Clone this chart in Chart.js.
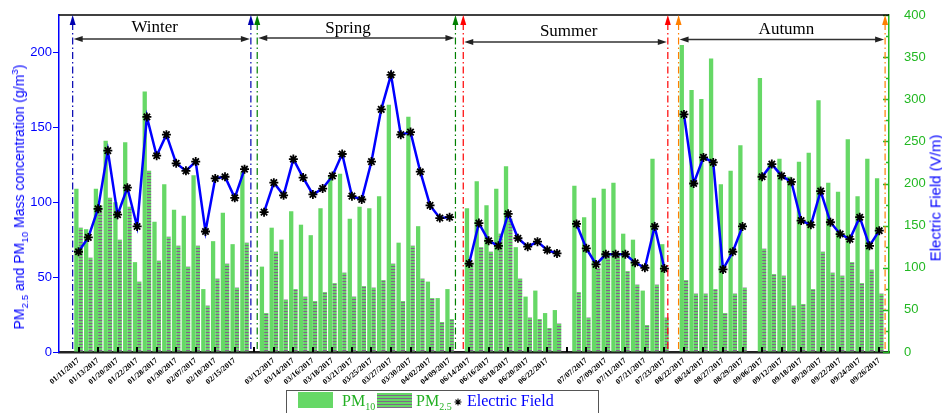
<!DOCTYPE html>
<html>
<head>
<meta charset="utf-8">
<title>PM and Electric Field</title>
<script src="https://cdn.jsdelivr.net/npm/chart.js@4.4.1/dist/chart.umd.min.js"></script>
<style>
  body { margin: 0; background: #fff; }
  #wrap { position: relative; width: 942px; height: 413px; }
  .ytitle {
    position: absolute; color: #0000ff; white-space: nowrap; line-height: 1;
    font-family: "Liberation Sans", Arial, sans-serif;
    transform: translate(-50%, -50%) rotate(-90deg);
  }
  .ytitle sub, .ytitle sup { font-size: 0.7em; line-height: 0; }
</style>
</head>
<body>
<div id="wrap">
  <canvas id="chart"></canvas>
  <div class="ytitle" style="left:19px; top:197px; font-size:14px;">PM<sub>2.5</sub> and PM<sub>10</sub> Mass concentration (g/m<sup>3</sup>)</div>
  <div class="ytitle" style="left:935px; top:198px; font-size:15px;">Electric Field (V/m)</div>
</div>
<script>
// labels sit on every second day, '' = unlabeled tick
const tickLabels = ['01/11/2017', '01/13/2017', '01/20/2017', '01/22/2017', '01/28/2017', '01/30/2017', '02/07/2017', '02/10/2017', '02/15/2017', '',
  '03/12/2017', '03/14/2017', '03/16/2017', '03/18/2017', '03/21/2017', '03/25/2017', '03/27/2017', '03/30/2017', '04/02/2017', '04/09/2017',
  '06/14/2017', '06/16/2017', '06/18/2017', '06/20/2017', '06/22/2017', '',
  '07/07/2017', '07/09/2017', '07/11/2017', '07/21/2017', '07/23/2017',
  '08/22/2017', '08/24/2017', '08/27/2017', '08/29/2017',
  '09/06/2017', '09/12/2017', '09/18/2017', '09/20/2017', '09/22/2017', '09/24/2017', '09/26/2017'];

// one value per day slot, null = no sample
const pm10 = [109, 82, 109, 141, 100, 140, 60, 174, 87, 112, 95, 91, 118, 42, 74, 93, 72, 120, null,
  57, 83, 75, 94, 85, 78, 96, 117, 119, 89, 97, 96, 104, 165, 73, 157, 84, 47, 36, 42, null,
  96, 114, 98, 109, 124, 70, 37, 41, 26, 28, null,
  111, 90, 103, 109, 113, 79, 75, 41, 129, 72, null,
  205, 175, 169, 196, 112, 121, 138, null,
  183, 126, 129, 117, 127, 133, 168, 113, 107, 142, 104, 129, 116];

const pm25 = [83, 63, 98, 103, 75, 97, 47, 121, 61, 77, 71, 57, 71, 31, 49, 59, 43, 73, null,
  26, 67, 35, 42, 37, 34, 40, 46, 53, 37, 44, 43, 48, 59, 34, 71, 49, 36, 20, 22, null,
  59, 70, 67, 79, 89, 49, 23, 22, 16, 19, null,
  40, 23, 56, 65, 65, 54, 45, 18, 45, 23, null,
  48, 39, 39, 42, 26, 39, 43, null,
  69, 52, 51, 31, 32, 42, 67, 53, 51, 60, 46, 55, 39];

const eField = [119, 136, 170, 239, 163, 195, 149, 279, 233, 258, 224, 215, 226, 143, 206, 208, 183, 217, null,
  166, 201, 186, 229, 207, 187, 194, 209, 235, 185, 181, 226, 288, 329, 258, 261, 214, 174, 159, 160, null,
  105, 153, 132, 126, 164, 135, 125, 131, 121, 117, null,
  152, 123, 104, 116, 116, 116, 106, 100, 149, 99, null,
  282, 200, 231, 225, 98, 119, 149, null,
  208, 223, 209, 202, 156, 151, 191, 154, 140, 134, 160, 126, 144];

// season brackets, given in day slots
const seasons = [
  { name: 'Winter', from: -0.6, to: 17.65, mid: 7.8, arrowY: 39, textY: 32, color: '#0000b0' },
  { name: 'Spring', from: 18.3, to: 38.6, mid: 27.6, arrowY: 38, textY: 33, color: '#008000' },
  { name: 'Summer', from: 39.4, to: 60.35, mid: 50.2, arrowY: 42, textY: 36, color: '#ff0000' },
  { name: 'Autumn', from: 61.45, to: 82.6, mid: 72.5, arrowY: 39.5, textY: 34, color: '#ff8000' }
];

const GREEN = '#66d866';
const AXIS_GREEN = '#22b822';

// two empty slots before the first day and one after the last
const categories = ['', ''];
pm10.forEach((v, i) => categories.push(i % 2 === 0 ? tickLabels[i / 2] : ''));
categories.push('');
const pad = arr => [null, null, ...arr, null];

function stripes() {
  const c = document.createElement('canvas');
  c.width = 4; c.height = 3;
  const g = c.getContext('2d');
  g.fillStyle = GREEN; g.fillRect(0, 0, 4, 3);
  g.fillStyle = '#7f6688'; g.fillRect(0, 2, 4, 1);
  return g.createPattern(c, 'repeat');
}
const striped = stripes();

function triangle(ctx, x1, y1, x2, y2, x3, y3) {
  ctx.beginPath(); ctx.moveTo(x1, y1); ctx.lineTo(x2, y2); ctx.lineTo(x3, y3); ctx.closePath(); ctx.fill();
}

function star(ctx, x, y, r) {
  ctx.beginPath();
  ctx.moveTo(x - r, y); ctx.lineTo(x + r, y);
  ctx.moveTo(x, y - r); ctx.lineTo(x, y + r);
  const d = r * 0.707;
  ctx.moveTo(x - d, y - d); ctx.lineTo(x + d, y + d);
  ctx.moveTo(x - d, y + d); ctx.lineTo(x + d, y - d);
  ctx.stroke();
}

// PM text with a subscript
function pmText(ctx, x, y, sub, color) {
  ctx.fillStyle = color;
  ctx.font = '16px "Liberation Serif"';
  ctx.fillText('PM', x, y);
  const w = ctx.measureText('PM').width;
  ctx.font = '10px "Liberation Serif"';
  ctx.fillText(sub, x + w, y + 4);
}

const decorations = {
  id: 'decorations',
  afterDatasetsDraw(chart) {
    const { ctx, chartArea: a, scales: { x, yR } } = chart;
    const xAt = i => x.getPixelForValue(i + 2);
    ctx.save();

    // inward ticks on the date axis
    ctx.strokeStyle = '#000'; ctx.lineWidth = 2;
    for (let i = 0; i < pm10.length; i += 2) {
      const px = Math.round(xAt(i));
      ctx.beginPath(); ctx.moveTo(px, a.bottom); ctx.lineTo(px, a.bottom - 5); ctx.stroke();
    }

    // inward ticks on the right axis, with minor ones
    ctx.strokeStyle = AXIS_GREEN; ctx.lineWidth = 1.5;
    for (let v = 0; v <= 400; v += 25) {
      const py = Math.round(yR.getPixelForValue(v)) + 0.5;
      const len = v % 50 === 0 ? 6 : 3;
      ctx.beginPath(); ctx.moveTo(a.right, py); ctx.lineTo(a.right - len, py); ctx.stroke();
    }

    // top frame
    ctx.strokeStyle = '#000'; ctx.lineWidth = 1.5;
    ctx.beginPath(); ctx.moveTo(a.left, a.top); ctx.lineTo(a.right, a.top); ctx.stroke();

    // season brackets
    seasons.forEach(s => {
      const x1 = xAt(s.from), x2 = xAt(s.to);
      ctx.strokeStyle = s.color; ctx.fillStyle = s.color; ctx.lineWidth = 1.2;
      ctx.setLineDash([7, 3, 1.5, 3]);
      [x1, x2].forEach(px => {
        ctx.beginPath(); ctx.moveTo(px, a.top + 8); ctx.lineTo(px, a.bottom); ctx.stroke();
      });
      ctx.setLineDash([]);
      [x1, x2].forEach(px => triangle(ctx, px, a.top, px - 3, a.top + 10, px + 3, a.top + 10));

      ctx.strokeStyle = '#333'; ctx.fillStyle = '#222'; ctx.lineWidth = 1.3;
      ctx.beginPath(); ctx.moveTo(x1 + 6, s.arrowY); ctx.lineTo(x2 - 6, s.arrowY); ctx.stroke();
      triangle(ctx, x1 + 1, s.arrowY, x1 + 10, s.arrowY - 3, x1 + 10, s.arrowY + 3);
      triangle(ctx, x2 - 1, s.arrowY, x2 - 10, s.arrowY - 3, x2 - 10, s.arrowY + 3);

      ctx.fillStyle = '#000';
      ctx.font = '17px "Liberation Serif"';
      ctx.textAlign = 'center';
      ctx.fillText(s.name, xAt(s.mid), s.textY);
    });
    ctx.restore();
  },
  afterDraw(chart) {
    const ctx = chart.ctx;
    ctx.save();
    ctx.strokeStyle = '#555'; ctx.lineWidth = 1;
    ctx.strokeRect(286.5, 390.5, 312, 30);
    ctx.fillStyle = GREEN; ctx.fillRect(298, 392, 35, 16);
    pmText(ctx, 342, 406, '10', '#22b022');
    ctx.fillStyle = striped; ctx.fillRect(377, 393, 35, 15);
    pmText(ctx, 416, 406, '2.5', '#22b022');
    ctx.strokeStyle = '#000'; ctx.lineWidth = 1.1;
    star(ctx, 458, 402, 3.5);
    ctx.fillStyle = '#0000ff';
    ctx.font = '16px "Liberation Serif"';
    ctx.fillText('Electric Field', 467, 406);
    ctx.restore();
  }
};

new Chart(document.getElementById('chart'), {
  type: 'bar',
  data: {
    labels: categories,
    datasets: [
      {
        type: 'line',
        label: 'Electric Field',
        data: pad(eField),
        yAxisID: 'yR',
        borderColor: '#0000ff',
        borderWidth: 2.5,
        pointStyle: 'star',
        pointRadius: 4.5,
        pointBorderColor: '#000',
        pointBorderWidth: 1.8,
        pointBackgroundColor: '#000',
        spanGaps: false,
        order: 0
      },
      {
        label: 'PM10',
        data: pad(pm10),
        yAxisID: 'yL',
        backgroundColor: GREEN,
        categoryPercentage: 0.88,
        barPercentage: 1,
        order: 1
      },
      {
        label: 'PM2.5',
        data: pad(pm25),
        yAxisID: 'yL',
        backgroundColor: striped,
        categoryPercentage: 0.88,
        barPercentage: 1,
        order: 1
      }
    ]
  },
  options: {
    responsive: true,
    maintainAspectRatio: false,
    animation: false,
    devicePixelRatio: 1,
    layout: { padding: { top: 15 } },
    plugins: { legend: { display: false }, tooltip: { enabled: false } },
    scales: {
      x: {
        type: 'category',
        offset: false,
        grid: { display: false, drawTicks: false },
        border: { color: '#222', width: 2.5 },
        ticks: {
          autoSkip: false,
          maxRotation: 40,
          minRotation: 40,
          padding: 4,
          color: '#000',
          font: { family: 'Liberation Serif', weight: 'bold', size: 8 }
        },
        afterFit: s => { s.height = 61; }
      },
      yL: {
        position: 'left',
        min: 0,
        max: 225,
        grid: { drawOnChartArea: false, tickLength: 6, color: '#0000ff' },
        border: { color: '#0000ff', width: 1.5 },
        ticks: {
          stepSize: 50,
          includeBounds: false,
          padding: 1,
          color: '#0000ff',
          font: { family: 'Liberation Sans', size: 13 }
        },
        afterFit: s => { s.width = 59; }
      },
      yR: {
        position: 'right',
        min: 0,
        max: 400,
        grid: { display: false },
        border: { color: AXIS_GREEN, width: 1.5 },
        ticks: {
          stepSize: 50,
          padding: 7,
          color: AXIS_GREEN,
          font: { family: 'Liberation Sans', size: 13 }
        },
        afterFit: s => { s.width = 53; }
      }
    }
  },
  plugins: [decorations]
});
</script>
</body>
</html>
